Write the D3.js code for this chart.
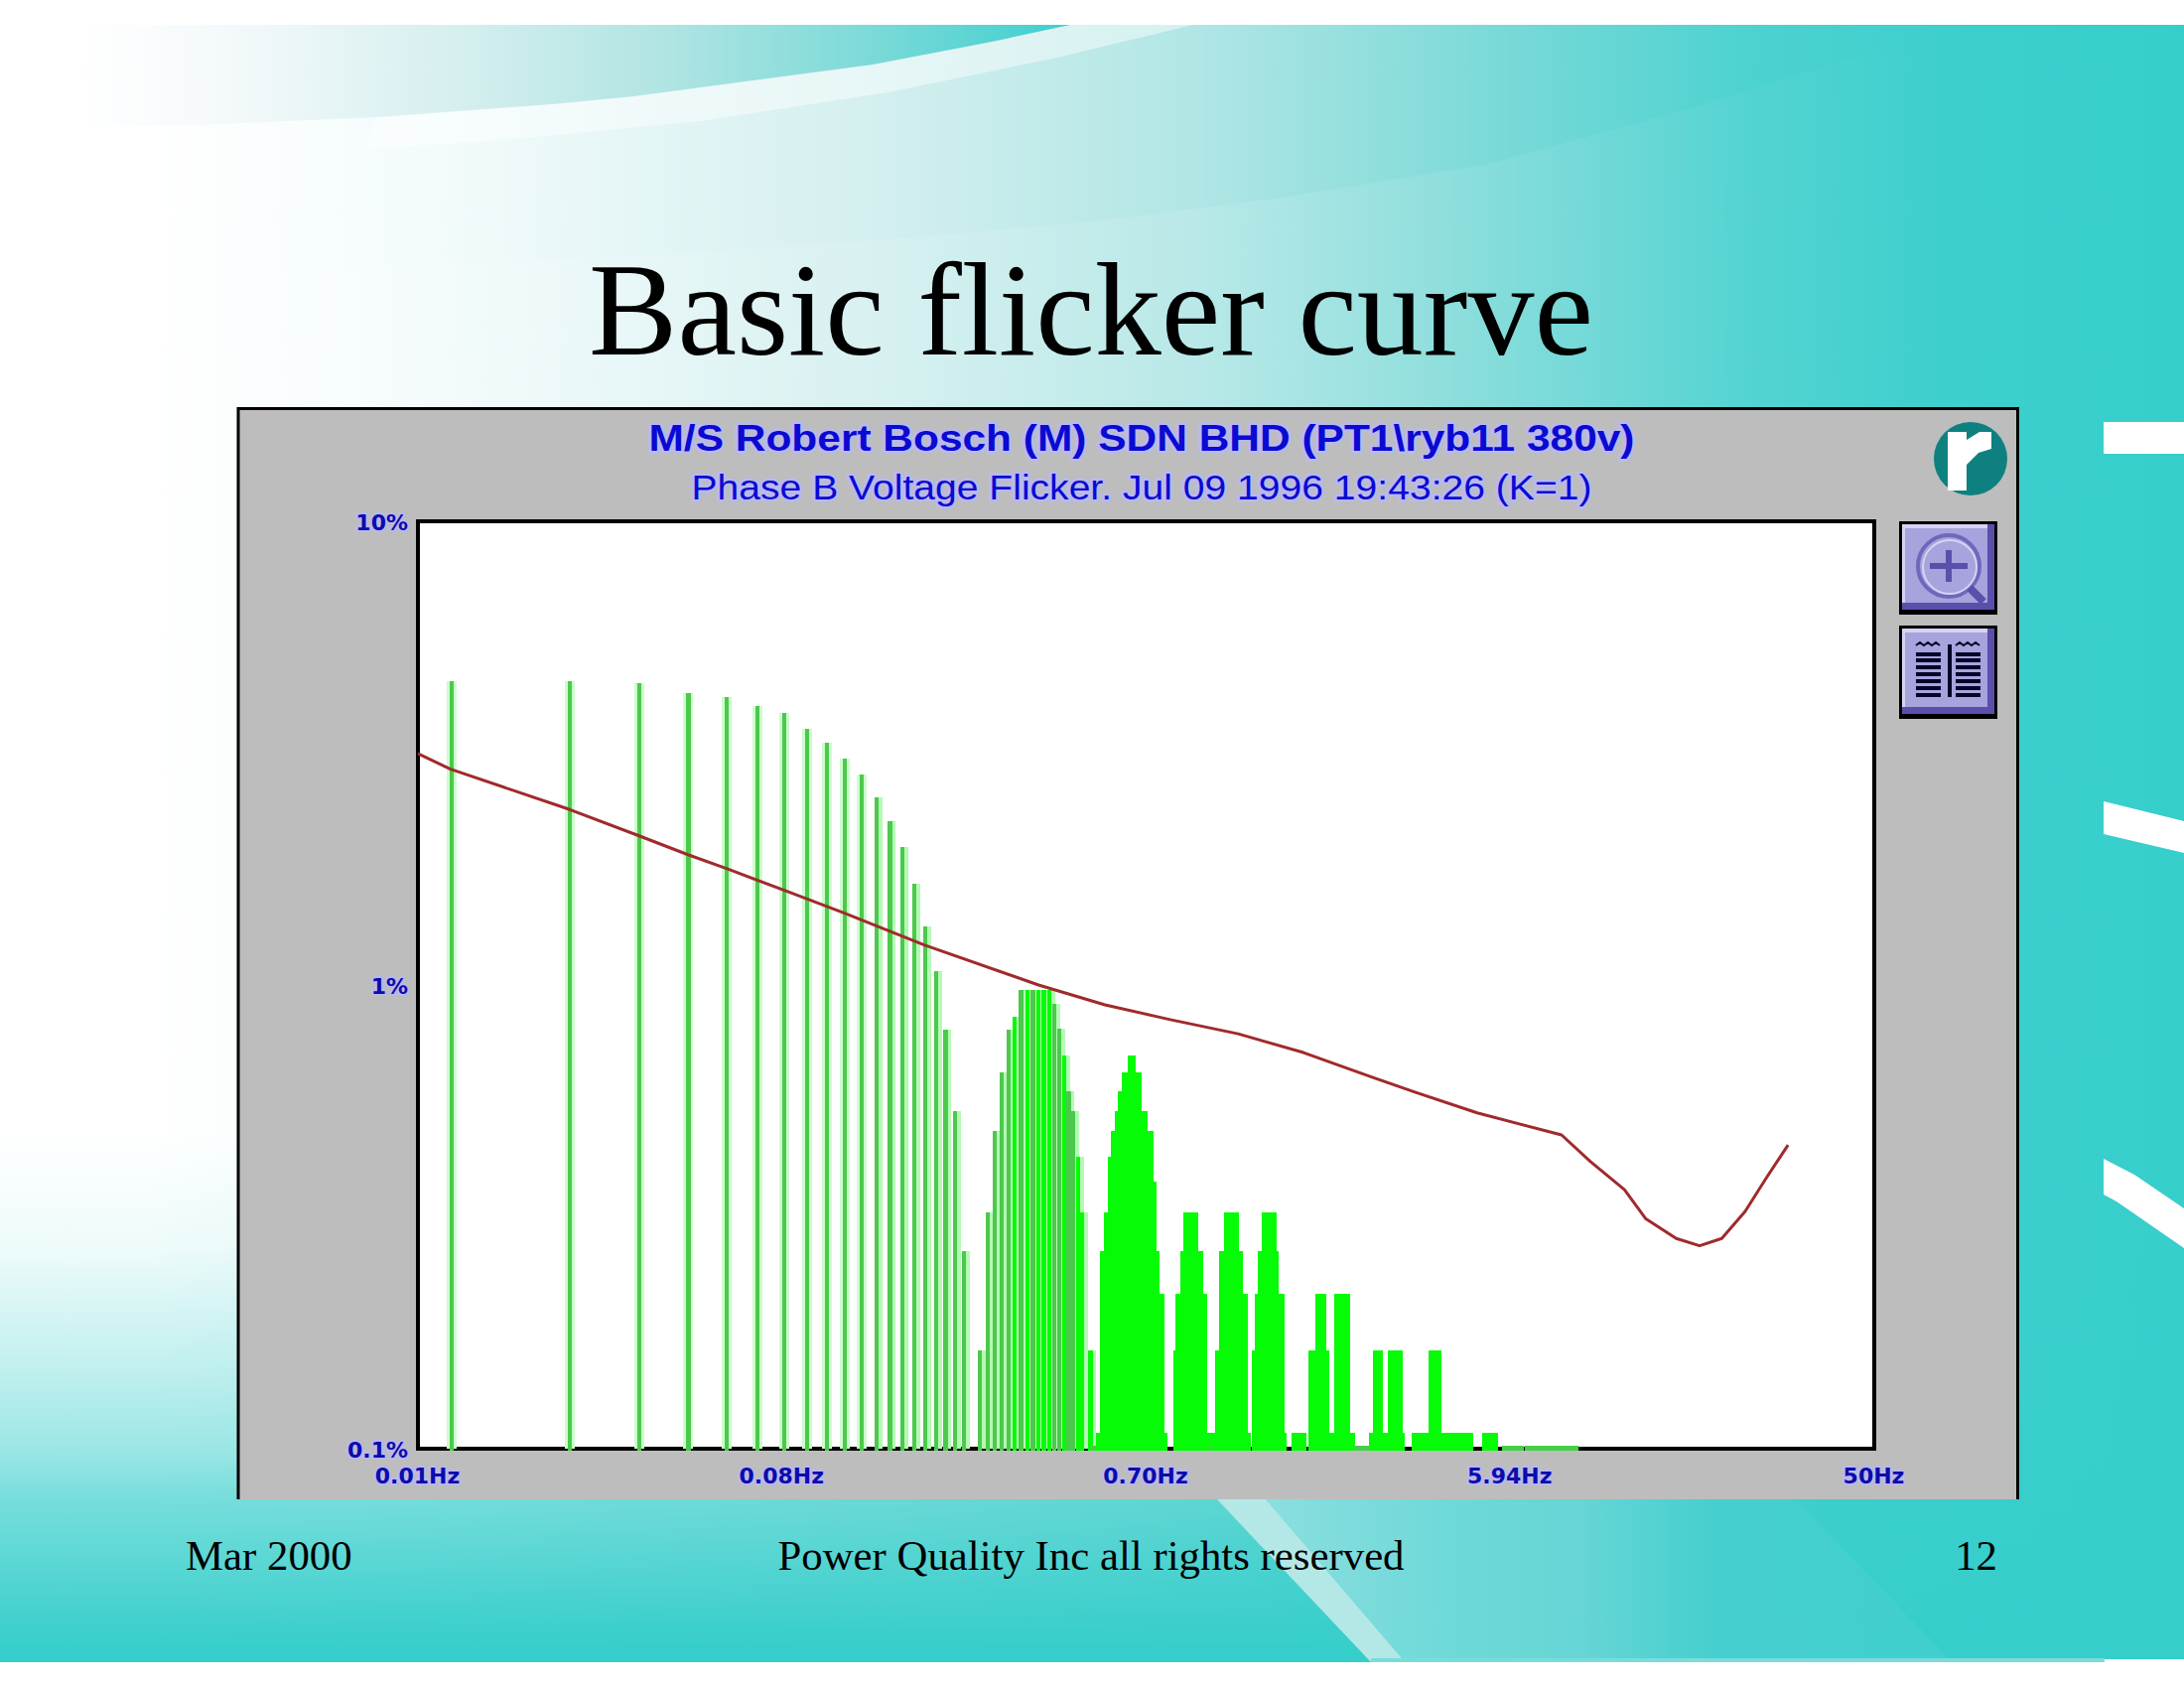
<!DOCTYPE html>
<html><head><meta charset="utf-8">
<script src="https://cdn.jsdelivr.net/npm/d3@7"></script>
<style>html,body{margin:0;padding:0;background:#fff}svg{display:block}</style>
</head><body><svg id="c" width="2200" height="1700"></svg>
<script>
// ---------- DATA ----------
const slideTitle = "Basic flicker curve";
const footerLeft = "Mar 2000", footerMid = "Power Quality Inc all rights reserved", footerRight = "12";
const chartTitle = "M/S Robert Bosch (M) SDN BHD (PT1\\ryb11 380v)";
const chartSubtitle = "Phase B Voltage Flicker. Jul 09 1996 19:43:26 (K=1)";
const xTickValues = [0.01, 0.0841, 0.7071, 5.946, 50];
const xTickLabels = ["0.01Hz", "0.08Hz", "0.70Hz", "5.94Hz", "50Hz"];
const yTickValues = [10, 1, 0.1];
const yTickLabels = ["10%", "1%", "0.1%"];
const binWidthHz = 0.01215;
// amplitude (%) of spectrum bins 1..131, 0 = no bar
const binPct = [4.53,4.53,4.48,4.26,4.17,4.0,3.86,3.57,3.33,3.08,2.84,2.54,2.26,1.98,1.65,1.34,1.07,.80,.535,.267,
 0,.163,.323,.484,.648,.80,.854,.975,.975,.975,.975,.975,.975,.91,.805,.705,.59,.535,.426,.323,
 0,.163,.1015,.108,.267,.323,.426,.484,.535,.59,.648,.648,.705,.705,.648,.648,.535,.535,.484,.484,
 .377,.267,.216,.216,.108,0,0,0,.163,.216,.216,.267,.323,.323,.323,.323,.323,.323,.267,.267,
 .216,.216,.108,.108,.1015,.108,.108,.163,.163,.267,.267,.267,.323,.323,.323,.323,.323,.323,.323,.267,
 .267,.216,.216,.216,.108,.108,0,0,.163,.163,.216,.216,.267,.267,.267,.323,.323,.323,.323,.323,
 .323,.323,.323,.267,.267,.216,.216,.216,.216,.108,.108];
// higher bins, read as runs of equal height
const runStart = [138,152,158,167,170,177,192,197,217,222,232,242,260,278,308,327,341,420,433,472,538,661];
const runEnd   = [148,157,166,169,176,191,196,216,221,231,241,259,263,307,326,335,392,428,453,527,653,725];
const runPct   = [.108,.163,.216,.163,.108,.216,.108,.1015,.108,.163,.108,.163,.108,.108,.163,.108,.108,.108,.108,.1015,.1015,.1015];
// basic flicker limit curve
const curveHz  = [.01,.0121,.0243,.0363,.0485,.0612,.0869,.1207,.193,.377,.556,.82,1.21,1.775,2.62,3.42,4.90,8.03,9.51,11.6,13.15,15.7,18.0,20.5,23.5,26.5,30.2];
const curvePct = [3.155,2.92,2.39,2.10,1.91,1.78,1.59,1.43,1.22,1.00,.906,.841,.785,.715,.635,.587,.530,.475,.416,.362,.313,.284,.274,.284,.325,.382,.452];

// ---------- SCALES ----------
const svg = d3.select("#c");
const x = d3.scaleLog().domain([0.01, 50]).range([421, 1888]);
const y = d3.scaleLog().domain([0.1, 10]).range([1459, 525]);
const defs = svg.append("defs");
function grad(id, x1, x2, y1, y2, stops){
  const g = defs.append("linearGradient").attr("id", id).attr("gradientUnits","userSpaceOnUse")
    .attr("x1",x1).attr("x2",x2).attr("y1",y1).attr("y2",y2);
  stops.forEach(s => g.append("stop").attr("offset", s[0]).attr("stop-color", s[1]).attr("stop-opacity", s[2]===undefined?1:s[2]));
}
const T = "#36cecb";
grad("bgH",0,2200,0,0,[[0,"#fff"],[.07,"#fff"],[.2,"#f3fbfc"],[.4,"#d4efef"],[.55,"#b0e6e5"],[.68,"#7cdad8"],[.8,"#4dd2d0"],[.9,"#3ccfcd"],[1,T]]);
grad("topBand",79,1078,0,0,[[0,"#fff"],[.15,"#f4f9fb"],[.38,"#d6efef"],[.6,"#aee4e2"],[.8,"#7bdad8"],[1,"#3ecfcf"]]);
grad("lift",100,1950,0,0,[[0,"#fff",.1],[.7,"#fff",.1],[1,"#fff",0]]);
grad("botV",0,0,1140,1660,[[0,T,0],[.225,T,.085],[.465,T,.32],[.625,T,.51],[.704,T,.67],[.785,T,.76],[.942,T,.94],[1,T,1]]);
grad("botSweep",1280,1960,0,0,[[0,"#8adede"],[.25,"#70d9d9"],[.46,"#66d5d5"],[.66,"#45cfce"],[1,"#40cfcd"]]);

// ---------- BACKGROUND ----------
const bg = svg.append("g");
const poly = (pts, fill, op) => bg.append("path").attr("d", d3.line().curve(d3.curveLinear)(pts)+"Z").attr("fill", fill).attr("opacity", op===undefined?1:op);
bg.append("rect").attr("x",0).attr("y",25).attr("width",2200).attr("height",1649).attr("fill","url(#bgH)");
poly([[497,265],[663,257],[912,240],[1111,222],[1300,198],[1500,165],[1700,110],[1860,60],[2000,25],[2200,25],[2200,1150],[100,1150],[100,280]],"url(#lift)");
poly([[365,150],[497,142],[705,122],[895,93],[1065,58],[1202,25],[1078,25],[999,42],[879,65],[638,97],[555,105],[381,118]],"#fff",.45);
poly([[79,25],[1078,25],[999,42],[879,65],[638,97],[555,105],[381,118],[199,126],[79,128]],"url(#topBand)");
bg.append("rect").attr("x",0).attr("y",1140).attr("width",2200).attr("height",534).attr("fill","url(#botV)");
poly([[1275,1510],[1809,1510],[1963,1670],[1412,1670]],"url(#botSweep)");
poly([[1226,1510],[1275,1510],[1412,1670],[1381,1674]],"#b4e8e6");
poly([[1381,1670],[2120,1670],[2120,1674],[1381,1674]],"#7adcda");
bg.append("rect").attr("x",2119).attr("y",425).attr("width",81).attr("height",32).attr("fill","#fff");
poly([[2119,807],[2200,827],[2200,859],[2119,840]],"#fff");
poly([[2119,1167],[2150,1183],[2200,1217],[2200,1257],[2132,1210],[2119,1203]],"#fff");
bg.append("rect").attr("x",2120).attr("y",1671).attr("width",80).attr("height",29).attr("fill","#fff");

// ---------- SLIDE TEXT ----------
const serif = "'Liberation Serif','Times New Roman',serif";
svg.append("text").text(slideTitle).attr("x",1099).attr("y",357).attr("text-anchor","middle")
  .attr("font-family",serif).attr("font-size",134).attr("fill","#000");

// ---------- PANEL ----------
svg.append("path").attr("d","M240,1510V411.5H2032.5V1510").attr("fill","#bdbdbd").attr("stroke","#000").attr("stroke-width",3);
const plotFrame = svg.append("rect").attr("x",x.range()[0]).attr("y",y.range()[1])
  .attr("width",x.range()[1]-x.range()[0]).attr("height",y.range()[0]-y.range()[1])
  .attr("fill","#fff").attr("stroke","#000").attr("stroke-width",4);

const sans = "'Liberation Sans',Arial,sans-serif";
const halo = s => s.attr("stroke","#b9b9ee").attr("stroke-width",5).attr("paint-order","stroke").attr("stroke-linejoin","round");
svg.append("text").text(chartTitle).attr("x",1150).attr("y",454).attr("text-anchor","middle")
  .attr("font-family",sans).attr("font-weight","bold").attr("font-size",37).attr("fill","#0a0ad2")
  .attr("textLength",993).attr("lengthAdjust","spacingAndGlyphs").call(halo);
svg.append("text").text(chartSubtitle).attr("x",1150).attr("y",503).attr("text-anchor","middle")
  .attr("font-family",sans).attr("font-size",35).attr("fill","#0a0ad2")
  .attr("textLength",907).attr("lengthAdjust","spacingAndGlyphs").call(halo);

// ---------- BARS ----------
const bins = [];
binPct.forEach((v,i) => { if (v>0) bins.push({k:i+1, v}); });
runStart.forEach((s,i) => { d3.range(s, runEnd[i]+1).forEach(k => bins.push({k, v:runPct[i]})); });
const muted = new Set([1,2,3,4,5,6,7,8,9,10,11,12,13,14,15,16,17,18,19,20,22,23,24,25,26,28,30,34,35,37,38,43]);
const barG = svg.append("g");
barG.selectAll("rect.h").data(bins.filter(b=>b.k<45)).join("rect").attr("class","h")
  .attr("x", d=>x(d.k*binWidthHz)-(d.k<12?5:2)).attr("width", d=>d.k<12?10:8)
  .attr("y", d=>y(d.v)).attr("height", d=>y(0.1)-y(d.v))
  .attr("fill", d=>d.k<12?"#ccfdcc":"#b4fab4").attr("shape-rendering","crispEdges");
barG.selectAll("rect.b").data(bins).join("rect").attr("class","b")
  .attr("x", d=>x(d.k*binWidthHz)-2).attr("width", d=>d.k<135?4.2:3)
  .attr("y", d=>y(d.v)).attr("height", d=>y(0.1)-y(d.v)+2)
  .attr("fill", d=>muted.has(d.k)?"#4cc94c":(d.v<=0.103?"#46cf46":"#06fb06"))
  .attr("shape-rendering","crispEdges");

// ---------- CURVE ----------
const curve = curveHz.map((h,i)=>[h,curvePct[i]]);
svg.append("path").datum(curve).attr("fill","none").attr("stroke","#a02a2c").attr("stroke-width",3)
  .attr("stroke-linejoin","round")
  .attr("d", d3.line().x(d=>x(d[0])).y(d=>y(d[1])));

// ---------- AXES ----------
const ax = svg.append("g").attr("transform","translate(-1,1470)").call(
  d3.axisBottom(x).tickValues(xTickValues).tickSize(0).tickPadding(8).tickFormat((d,i)=>xTickLabels[i]));
const ay = svg.append("g").attr("transform","translate(421,1)").call(
  d3.axisLeft(y).tickValues(yTickValues).tickSize(0).tickPadding(10).tickFormat((d,i)=>yTickLabels[i]));
[ax,ay].forEach(a=>{ a.select(".domain").remove();
  a.selectAll("text").attr("font-family","'DejaVu Sans',sans-serif").attr("font-size",22).attr("fill","#0c0caa").attr("font-weight","bold").call(halo).attr("stroke-width",4); });

// ---------- LOGO + BUTTONS ----------
const ui = svg.append("g");
ui.append("circle").attr("cx",1985).attr("cy",462).attr("r",37).attr("fill","#0f8080");
ui.append("path").attr("d","M1962,435H1981V443L1994,435H2006V452L1993,456L1981,468V494H1962Z").attr("fill","#fff");
function btn(y0,h){
  const g = ui.append("g").attr("shape-rendering","crispEdges");
  g.append("rect").attr("x",1913).attr("y",y0).attr("width",99).attr("height",h).attr("fill","#000");
  g.append("rect").attr("x",1916).attr("y",y0+3).attr("width",93).attr("height",h-8).attr("fill","#5a50ab");
  g.append("rect").attr("x",1916).attr("y",y0+3).attr("width",86).attr("height",h-15).attr("fill","#d6d3f4");
  g.append("rect").attr("x",1919).attr("y",y0+7).attr("width",83).attr("height",h-19).attr("fill","#a7a3dd");
  return g;
}
btn(525,94);
ui.append("circle").attr("cx",1963).attr("cy",570).attr("r",31).attr("fill","none").attr("stroke","#6f67bb").attr("stroke-width",4);
ui.append("circle").attr("cx",1964).attr("cy",571).attr("r",27).attr("fill","none").attr("stroke","#d6d3f4").attr("stroke-width",2);
ui.append("path").attr("d","M1944,570H1982M1963,554V586").attr("stroke","#5a50ab").attr("stroke-width",6);
ui.append("path").attr("d","M1984,592L1998,606").attr("stroke","#5a50ab").attr("stroke-width",8);
btn(630,94);
const bookRows = [659,665,672,679,686,693,700];
ui.selectAll("path.l").data(bookRows).join("path").attr("class","l")
  .attr("d",d=>`M1930,${d}H1955M1970,${d}H1995`).attr("stroke","#05052a").attr("stroke-width",4);
ui.append("path").attr("d","M1964,649V702").attr("stroke","#05052a").attr("stroke-width",4);
ui.append("path").attr("d","M1930,650l4,-3l4,3l4,-3l4,3l4,-3l4,3M1970,650l4,-3l4,3l4,-3l4,3l4,-3l4,3").attr("fill","none").attr("stroke","#05052a").attr("stroke-width",2);

// ---------- FOOTER ----------
const foot = (t,xp,a)=>svg.append("text").text(t).attr("x",xp).attr("y",1581).attr("text-anchor",a)
  .attr("font-family",serif).attr("font-size",42.8).attr("fill","#000");
foot(footerLeft,187,"start"); foot(footerMid,1099,"middle"); foot(footerRight,2012,"end");
</script></body></html>
